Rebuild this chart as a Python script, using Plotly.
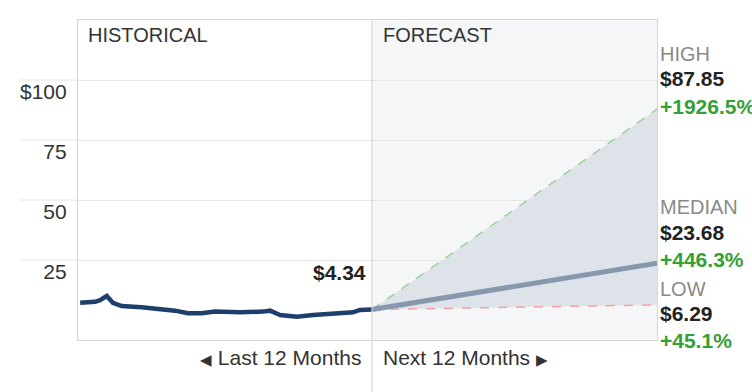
import plotly.graph_objects as go

# ---- data ----
hist_months = [-12.29, -11.66, -11.45, -11.17, -10.91, -10.54, -9.70, -8.85, -8.29, -7.75,
               -7.17, -6.61, -5.56, -4.59, -4.29, -3.87, -3.16, -2.48, -1.64, -0.80, -0.51, 0.0]
hist_price = [7.2, 7.6, 8.3, 10.0, 7.2, 5.8, 5.3, 4.5, 3.9, 2.8,
              2.8, 3.5, 3.2, 3.5, 3.9, 2.1, 1.4, 2.1, 2.8, 3.2, 4.2, 4.34]
fc_months = [0, 12]
current_price = 4.34
high_target = 87.85
median_target = 23.68
low_target = 6.29
high_pct = "+1926.5%"
median_pct = "+446.3%"
low_pct = "+45.1%"
tick_vals = [25, 50, 75, 100]
tick_text = ["25", "50", "75", "$100"]

FONT = "Liberation Sans, Arial, sans-serif"
FS = 21      # mixed-case / digit texts
FSC = 20     # all-caps texts
GRID = "#e6e6e6"
BORDER = "#d6d6d6"
GREEN = "#35a035"

fig = go.Figure()

# low line (base for fill)
fig.add_trace(go.Scatter(x=fc_months, y=[current_price, low_target], mode="lines",
                         line=dict(color="#f2a3a3", width=1.5, dash="dash"),
                         hoverinfo="skip", showlegend=False))
# high line with fill down to low
fig.add_trace(go.Scatter(x=fc_months, y=[current_price, high_target], mode="lines",
                         line=dict(color="#9ad29a", width=1.5, dash="dash"),
                         fill="tonexty", fillcolor="#dee2e9",
                         hoverinfo="skip", showlegend=False))
# median
fig.add_trace(go.Scatter(x=fc_months, y=[current_price, median_target], mode="lines",
                         line=dict(color="#8798ae", width=5),
                         hoverinfo="skip", showlegend=False))
# history
fig.add_trace(go.Scatter(x=hist_months, y=hist_price, mode="lines",
                         line=dict(color="#1d3f6b", width=4.5),
                         hoverinfo="skip", showlegend=False))

shapes = [
    dict(type="rect", xref="x", yref="paper", x0=fc_months[0], x1=fc_months[1], y0=0, y1=1,
         fillcolor="#f5f6f7", line=dict(width=0), layer="below"),
    dict(type="line", xref="x", yref="paper", x0=fc_months[0], x1=fc_months[0], y0=-0.165, y1=1,
         line=dict(color=BORDER, width=1.2), layer="above"),
]
for v in tick_vals:
    shapes.append(dict(type="line", xref="paper", yref="y", x0=-0.1, x1=0, y0=v, y1=v,
                       line=dict(color=GRID, width=1), layer="below"))

def ann(text, x, y, xanchor="left", color="#333", bold=False, size=FS, xref="paper", yref="paper",
        xshift=0, yshift=0):
    if bold:
        text = "<b>" + text + "</b>"
    return dict(text=text, x=x, y=y, xref=xref, yref=yref, xanchor=xanchor, yanchor="middle",
                showarrow=False, font=dict(family=FONT, size=size, color=color),
                xshift=xshift, yshift=yshift)

annotations = [
    ann("HISTORICAL", 0.013, 0.952, size=FSC),
    ann("FORECAST", fc_months[0], 0.952, xref="x", xshift=9, size=FSC),
    ann("$" + f"{current_price:.2f}", fc_months[0], current_price, xanchor="right", bold=True,
        color="#222", xref="x", yref="y", xshift=-4, yshift=37),
    ann("<span style='font-size:15px'>◀</span> Last 12 Months", fc_months[0], -0.056,
        xanchor="right", xref="x", xshift=-9),
    ann("Next 12 Months <span style='font-size:15px'>▶</span>", fc_months[0], -0.056,
        xref="x", xshift=9),
    ann("HIGH", 1.0, 0.895, color="#8a8a8a", xshift=1, size=FSC),
    ann("$" + f"{high_target:.2f}", 1.0, 0.816, color="#222", bold=True, xshift=1),
    ann(high_pct, 1.0, 0.731, color=GREEN, bold=True, xshift=1),
    ann("MEDIAN", 1.0, 0.416, color="#8a8a8a", xshift=1, size=FSC),
    ann("$" + f"{median_target:.2f}", 1.0, 0.3375, color="#222", bold=True, xshift=1),
    ann(median_pct, 1.0, 0.253, color=GREEN, bold=True, xshift=1),
    ann("LOW", 1.0, 0.159, color="#8a8a8a", xshift=1, size=FSC),
    ann("$" + f"{low_target:.2f}", 1.0, 0.084, color="#222", bold=True, xshift=1),
    ann(low_pct, 1.0, 0.0, color=GREEN, bold=True, xshift=1),
]

fig.update_layout(
    width=752, height=392,
    margin=dict(l=78, r=95, t=20, b=52),
    paper_bgcolor="white", plot_bgcolor="white",
    showlegend=False,
    shapes=shapes, annotations=annotations,
    xaxis=dict(range=[-12.38, 12], showgrid=False, zeroline=False, showticklabels=False,
               showline=True, mirror=True, linecolor=BORDER, linewidth=1.2, fixedrange=True),
    yaxis=dict(range=[-8.33, 125], tickvals=tick_vals, ticktext=tick_text,
               showgrid=True, gridcolor=GRID, gridwidth=1, zeroline=False,
               showline=True, mirror=True, linecolor=BORDER, linewidth=1.2,
               tickfont=dict(family=FONT, size=FS, color="#333"),
               ticklabelshift=12, ticklabelstandoff=6, ticks="", fixedrange=True),
)

fig.write_html("out.html", config={"displayModeBar": False},
               post_script="document.body.style.margin='0';document.body.style.overflow='hidden';")
